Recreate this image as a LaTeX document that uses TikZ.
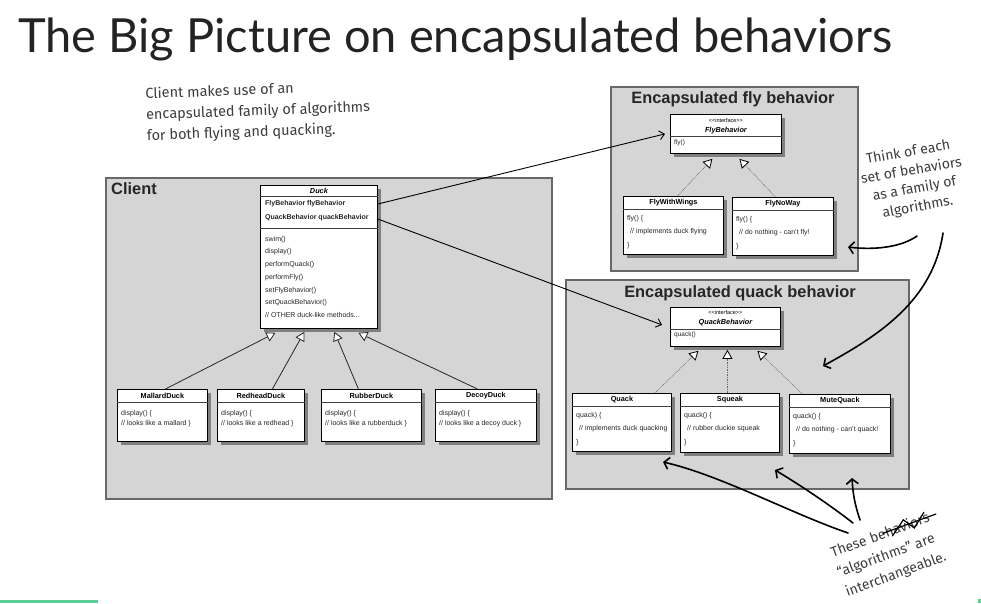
\documentclass[tikz,border=0pt]{standalone}
\usepackage{fontspec}
\setmainfont{Liberation Sans}
\newfontfamily\titlefont{Lato}
\newfontfamily\handfont{Fira Sans}
\usetikzlibrary{arrows.meta,shadows,calc}
\definecolor{boxgray}{HTML}{D5D5D5}
\definecolor{boxedge}{HTML}{686868}
\definecolor{handink}{HTML}{3C3C3C}
\definecolor{titleink}{HTML}{232323}
\definecolor{accent}{HTML}{5CCF94}
% name, x, y, w, h, header, body, body offset, line skip
\newcommand{\umlcls}[9]{%
  \node[umlbox, anchor=north west, minimum width=#4pt, minimum height=#5pt] (#1) at (#2,#3) {};
  \draw[sepline] ([yshift=-13pt]#1.north west) -- ([yshift=-13pt]#1.north east);
  \node[hdr] (#1-h) at ([yshift=-6.5pt]#1.north) {#6};
  \node[bodytxt, font=\fontsize{7}{#9}\selectfont] (#1-b) at ([shift={(4pt,-#8pt)}]#1.north west) {#7};
}
\begin{document}
\begin{tikzpicture}[x=1pt, y=-1pt,
  container/.style={draw=boxedge, fill=boxgray, line width=1.5pt, inner sep=0pt, rectangle},
  umlbox/.style={draw=black, line width=0.8pt, fill=white, inner sep=0pt, rectangle,
    drop shadow={shadow xshift=3.5pt, shadow yshift=-3.5pt, opacity=0.4, fill=black}},
  sepline/.style={draw=black!75, line width=0.7pt},
  hdr/.style={font=\bfseries\fontsize{7.3}{8}\selectfont, inner sep=0pt},
  bodytxt/.style={anchor=north west, align=left, inner sep=0pt, text=black!85},
  ctitle/.style={font=\bfseries\fontsize{16.4}{18}\selectfont, inner sep=0pt, text=black!85},
  inherit/.style={draw=black!85, line width=0.8pt, -{Triangle[fill=white, length=9pt, width=10pt, line width=0.8pt]}},
  realize/.style={draw=black!60, line width=0.7pt, densely dotted, -{Triangle[fill=white, color=black, length=9pt, width=10pt, line width=0.8pt]}},
  assoc/.style={draw=black, line width=0.9pt, -{Straight Barb[length=5pt, width=9pt]}},
  handarrow/.style={draw=black, line width=1.6pt, line cap=round, -{Straight Barb[length=5pt, width=12pt, line width=1.6pt]}},
  hand/.style={font=\handfont\fontsize{14}{21}\selectfont, text=handink, inner sep=0pt},
  strike/.style={draw=black, line width=1.2pt, line cap=round}
]
\useasboundingbox (0,0) rectangle (981,603);

% title
\node[anchor=base west, inner sep=0pt, font=\titlefont\fontsize{47}{52}\selectfont, text=titleink] (title) at (18,52) {The Big Picture on encapsulated behaviors};

% containers
\node[container, anchor=north west, minimum width=446pt, minimum height=321pt] (client) at (105,177) {};
\node[container, anchor=north west, minimum width=247pt, minimum height=184pt] (flyarea) at (610,86) {};
\node[container, anchor=north west, minimum width=343pt, minimum height=209pt] (quackarea) at (565,279) {};
\node[ctitle, anchor=base west] (clientlbl) at (111,194) {Client};
\node[ctitle, anchor=base] (flylbl) at (733,103) {Encapsulated fly behavior};
\node[ctitle, anchor=base] (quacklbl) at (740,297) {Encapsulated quack behavior};

% Duck
\node[umlbox, anchor=north west, minimum width=117pt, minimum height=143pt] (duck) at (260,185) {};
\draw[sepline] ([yshift=-11pt]duck.north west) -- ([yshift=-11pt]duck.north east);
\draw[sepline] ([yshift=-43pt]duck.north west) -- ([yshift=-43pt]duck.north east);
\node[hdr, font=\bfseries\itshape\fontsize{7.3}{8}\selectfont] (duck-h) at ([yshift=-5.5pt]duck.north) {Duck};
\node[bodytxt, font=\bfseries\fontsize{7}{14}\selectfont] (duck-a) at ([shift={(5pt,-15.5pt)}]duck.north west) {FlyBehavior flyBehavior\\QuackBehavior quackBehavior};
\node[bodytxt, font=\fontsize{7}{12.7}\selectfont] (duck-m) at ([shift={(5pt,-51pt)}]duck.north west) {swim()\\display()\\performQuack()\\performFly()\\setFlyBehavior()\\setQuackBehavior()\\// OTHER duck-like methods...};

% duck subclasses
\umlcls{mallard}{117}{389}{90}{52}{MallardDuck}{display() \{\\// looks like a mallard \}}{21}{10.7}
\umlcls{redhead}{217}{389}{87}{52}{RedheadDuck}{display() \{\\// looks like a redhead \}}{21}{10.7}
\umlcls{rubber}{321}{389}{100}{52}{RubberDuck}{display() \{\\// looks like a rubberduck \}}{21}{10.7}
\umlcls{decoy}{435}{389}{101}{52}{DecoyDuck}{display() \{\\// looks like a decoy duck \}}{21}{10.7}

% FlyBehavior interface
\node[umlbox, anchor=north west, minimum width=111pt, minimum height=39pt] (flyb) at (670,114) {};
\draw[sepline] ([yshift=-22pt]flyb.north west) -- ([yshift=-22pt]flyb.north east);
\node[inner sep=0pt, font=\fontsize{5.5}{6}\selectfont] (flyb-s) at ([yshift=-6.5pt]flyb.north) {<{}<interface>{}>};
\node[hdr, font=\bfseries\itshape\fontsize{7.3}{8}\selectfont] (flyb-n) at ([yshift=-16.5pt]flyb.north) {FlyBehavior};
\node[bodytxt, font=\fontsize{6.5}{7}\selectfont] (flyb-b) at ([shift={(4pt,-25.5pt)}]flyb.north west) {fly()};

% fly implementations
\umlcls{fww}{623}{196}{100}{58}{FlyWithWings}{fly() \{\\\hspace*{3pt}// implements duck flying\\\}}{19}{13.5}
\umlcls{fnw}{732}{197}{101}{58}{FlyNoWay}{fly() \{\\\hspace*{3pt}// do nothing - can't fly!\\\}}{19}{13.5}

% QuackBehavior interface
\node[umlbox, anchor=north west, minimum width=110pt, minimum height=39pt] (qb) at (670,307) {};
\draw[sepline] ([yshift=-22pt]qb.north west) -- ([yshift=-22pt]qb.north east);
\node[inner sep=0pt, font=\fontsize{5.5}{6}\selectfont] (qb-s) at ([yshift=-6pt]qb.north) {<{}<interface>{}>};
\node[hdr, font=\bfseries\itshape\fontsize{7.3}{8}\selectfont] (qb-n) at ([yshift=-16pt]qb.north) {QuackBehavior};
\node[bodytxt, font=\fontsize{6.5}{7}\selectfont] (qb-b) at ([shift={(4pt,-25pt)}]qb.north west) {quack()};

% quack implementations
\umlcls{quack}{572}{393}{99}{58}{Quack}{quack) \{\\\hspace*{3pt}// implements duck quacking\\\}}{19}{13.5}
\umlcls{squeak}{680}{393}{99}{59}{Squeak}{quack() \{\\\hspace*{3pt}// rubber duckie squeak\\\}}{19}{13.5}
\umlcls{mute}{789}{394}{101}{59}{MuteQuack}{quack() \{\\\hspace*{3pt}// do nothing - can't quack!\\\}}{19}{13.5}

% inheritance
\draw[inherit] ([xshift=3pt]mallard.north) -- ([shift={(-43.5pt,-4pt)}]duck.south);
\draw[inherit] ([xshift=11.5pt]redhead.north) -- ([shift={(-14.5pt,-3pt)}]duck.south);
\draw[inherit] ([xshift=-13pt]rubber.north) -- ([shift={(15.5pt,-3pt)}]duck.south);
\draw[inherit] ([xshift=-8.5pt]decoy.north) -- ([shift={(39.5pt,-4pt)}]duck.south);

% realization
\draw[realize] ([xshift=4pt]fww.north) -- ([shift={(-13.5pt,-5pt)}]flyb.south);
\draw[realize] ([xshift=-7.5pt]fnw.north) -- ([shift={(13.5pt,-5pt)}]flyb.south);
\draw[realize] ([xshift=33pt]quack.north) -- ([shift={(-27pt,-4pt)}]qb.south);
\draw[realize] ([xshift=-2.5pt]squeak.north) -- ([shift={(2pt,-3pt)}]qb.south);
\draw[realize] ([xshift=-37.5pt]mute.north) -- ([shift={(32pt,-4pt)}]qb.south);

% associations
\draw[assoc] ([yshift=-19pt]duck.north east) -- ([xshift=-5pt]flyb.west);
\draw[assoc] ([yshift=-34pt]duck.north east) -- ([shift={(-8pt,2pt)}]qb.west);

% handwritten notes
\node[hand, font=\handfont\fontsize{14.5}{21}\selectfont, align=left, anchor=north west, rotate=2] (clientnote) at (145,87) {Client makes use of an\\encapsulated family of algorithms\\for both flying and quacking.};
\node[hand, font=\handfont\fontsize{14}{18.5}\selectfont, align=center, rotate=10] (think) at (913,180) {Think of each\\set of behaviors\\as a family of\\algorithms.};

\begin{scope}[shift={(886,556)}, rotate=20, transform shape]
  \node[hand, anchor=base] (alg) at (0,4) {“algorithms” are};
  \node[hand, anchor=base] (inter) at (3,25) {interchangeable.};
  \node[hand, anchor=base east] (these) at (-13,-17) {These};
  \node[hand, anchor=base west] (bhv) at (-9,-17) {behaviors};
\end{scope}
\draw[strike] ($(bhv.west)!0.22!(bhv.east)$) -- ($(bhv.east)!-0.12!(bhv.west)$);
\draw[strike] ($(bhv.south west)!0.35!(bhv.south east)$) -- ($(bhv.north west)!0.6!(bhv.north east)$) -- ($(bhv.south west)!0.72!(bhv.south east)$) -- ($(bhv.north west)!0.95!(bhv.north east)$);

% hand arrows
\coordinate (t1s) at (917,236);
\coordinate (t1e) at (848,247);
\coordinate (t2s) at (943,233);
\coordinate (t2e) at (823,366);
\coordinate (b1s) at (848,533);
\coordinate (b1e) at (663,462);
\coordinate (b2s) at (853,523);
\coordinate (b2e) at (775,470);
\coordinate (b3s) at (860,520);
\coordinate (b3e) at (852,478);
\draw[handarrow] (t1s) .. controls (900,248) and (872,250) .. (t1e);
\draw[handarrow] (t2s) .. controls (933,300) and (880,335) .. (t2e);
\draw[handarrow] (b1s) .. controls (790,513) and (720,475) .. (b1e);
\draw[handarrow] (b2s) .. controls (830,505) and (800,485) .. (b2e);
\draw[handarrow] (b3s) .. controls (855,505) and (853,495) .. (b3e);

% accent bar
\fill[accent] (0,600) rectangle (98,603);
\fill[accent] (978,599) rectangle (981,603);
\end{tikzpicture}
\end{document}
